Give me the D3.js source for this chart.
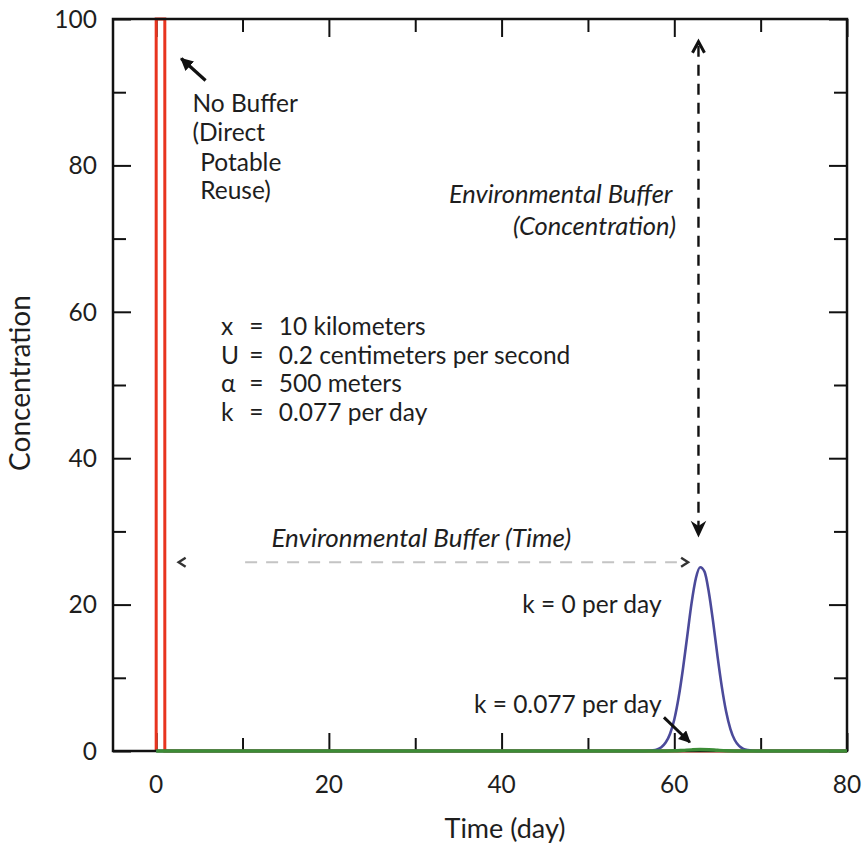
<!DOCTYPE html>
<html><head><meta charset="utf-8">
<script src="https://cdn.jsdelivr.net/npm/d3@7/dist/d3.min.js"></script>
<style>
body{margin:0;background:#fff}
svg{display:block}
text{font-family:Lato,'Open Sans',sans-serif;fill:#1e1e1e}
</style>
</head><body>
<svg id="chart" width="862" height="846"></svg>
<script>
// ---------- data ----------
const noBufferTime = [0, 0, 1, 1, 80];
const noBufferConc = [0, 100, 100, 0, 0];

const k0Time = [0, 56, 57, 57.5, 58, 58.5, 59, 59.5, 60, 60.5, 61, 61.5, 62, 62.5, 63, 63.5, 64, 64.5, 65, 65.5, 66, 66.5, 67, 67.5, 68, 68.5, 69, 70, 80];
const k0Conc = [0, 0, 0.03, 0.08, 0.21, 0.52, 1.15, 2.33, 4.3, 7.3, 11.2, 15.7, 20.2, 23.6, 25.1, 24.5, 21.7, 17.6, 13.0, 8.8, 5.4, 3.0, 1.5, 0.7, 0.3, 0.12, 0.04, 0, 0];

const k077Time = [0, 58, 60, 61, 62, 63, 64, 65, 66, 68, 80];
const k077Conc = [0, 0, 0.03, 0.09, 0.16, 0.2, 0.17, 0.1, 0.04, 0, 0];

const xMajorTicks = [0, 20, 40, 60, 80];
const xMinorTicks = [10, 30, 50, 70];
const xTickLabels = ["0", "20", "40", "60", "80"];
const yMajorTicks = [0, 20, 40, 60, 80, 100];
const yMinorTicks = [10, 30, 50, 70, 90];
const yTickLabels = ["0", "20", "40", "60", "80", "100"];

const paramLines = [
  ["x", "=", "10 kilometers"],
  ["U", "=", "0.2 centimeters per second"],
  ["\u03B1", "=", "500 meters"],
  ["k", "=", "0.077 per day"]
];

// ---------- layout ----------
const W = 862, H = 846;
const m = {left: 113, right: 15, top: 19, bottom: 95};
const svg = d3.select("#chart");
const x = d3.scaleLinear().domain([-5, 80]).range([m.left, W - m.right]);
const y = d3.scaleLinear().domain([0, 100]).range([H - m.bottom, m.top]);
const x0 = m.left, x1 = W - m.right, y0 = H - m.bottom, y1 = m.top;
const FS = 24.5, FSI = 25.5;

// ---------- ticks (inward, all four sides) ----------
function tickAxis(axisFn, scale, ticks, size, transform) {
  const g = svg.append("g").attr("transform", transform)
    .call(axisFn(scale).tickValues(ticks).tickSize(-size).tickFormat(""));
  g.select(".domain").remove();
  g.selectAll("line").attr("stroke", "#111").attr("stroke-width", 2);
}
tickAxis(d3.axisBottom, x, xMajorTicks, 18, `translate(0,${y0})`);
tickAxis(d3.axisBottom, x, xMinorTicks, 13, `translate(0,${y0})`);
tickAxis(d3.axisTop, x, xMajorTicks, 18, `translate(0,${y1})`);
tickAxis(d3.axisTop, x, xMinorTicks, 13, `translate(0,${y1})`);
tickAxis(d3.axisLeft, y, yMajorTicks, 18, `translate(${x0},0)`);
tickAxis(d3.axisLeft, y, yMinorTicks, 13, `translate(${x0},0)`);
tickAxis(d3.axisRight, y, yMajorTicks, 18, `translate(${x1},0)`);
tickAxis(d3.axisRight, y, yMinorTicks, 13, `translate(${x1},0)`);

// tick labels
svg.append("g").selectAll("text").data(xMajorTicks).join("text")
  .attr("x", d => x(d)).attr("y", y0 + 42)
  .attr("text-anchor", "middle").attr("font-size", FS)
  .text((d, i) => xTickLabels[i]);
svg.append("g").selectAll("text").data(yMajorTicks).join("text")
  .attr("x", x0 - 16).attr("y", d => y(d)).attr("dy", "0.36em")
  .attr("text-anchor", "end").attr("font-size", FS)
  .text((d, i) => yTickLabels[i]);

// axis titles
svg.append("text").attr("x", 505).attr("y", H - 8)
  .attr("text-anchor", "middle").attr("font-size", 27).text("Time (day)");
svg.append("text").attr("transform", `translate(30,${383}) rotate(-90)`)
  .attr("text-anchor", "middle").attr("font-size", 28).text("Concentration");

// ---------- series ----------
const line = d3.line().x(d => x(d[0])).y(d => y(d[1]));
const smooth = d3.line().x(d => x(d[0])).y(d => y(d[1])).curve(d3.curveMonotoneX);
const zip = (a, b) => a.map((v, i) => [v, b[i]]);

// no-buffer pulse (drawn under the frame so the top edge stays black)
svg.append("path").datum(zip(noBufferTime, noBufferConc)).attr("d", line)
  .attr("fill", "none").attr("stroke", "#e8341f").attr("stroke-width", 3);

// frame
svg.append("rect").attr("x", x0).attr("y", y1).attr("width", x1 - x0).attr("height", y0 - y1)
  .attr("fill", "none").attr("stroke", "#111").attr("stroke-width", 2.5);

svg.append("path").datum(zip(k0Time, k0Conc)).attr("d", smooth)
  .attr("fill", "none").attr("stroke", "#4b4a9a").attr("stroke-width", 2.6);
svg.append("path").datum(zip(k077Time, k077Conc)).attr("d", smooth)
  .attr("fill", "none").attr("stroke", "#3c8c36").attr("stroke-width", 3.4);

// ---------- annotations ----------
const defs = svg.append("defs");
defs.append("marker").attr("id", "head").attr("viewBox", "0 0 10 10")
  .attr("refX", 9).attr("refY", 5).attr("markerWidth", 4).attr("markerHeight", 4)
  .attr("orient", "auto").append("path").attr("d", "M0,0 L10,5 L0,10 Z").attr("fill", "#111");

// No Buffer arrow + label
svg.append("line")
  .attr("x1", x(5.72)).attr("y1", y(91.6)).attr("x2", x(2.9)).attr("y2", y(94.6))
  .attr("stroke", "#111").attr("stroke-width", 3.2).attr("marker-end", "url(#head)");
const nb = svg.append("text").attr("font-size", FS);
[["No Buffer", 4.2, 87.3], ["(Direct", 4.2, 83.3], ["Potable", 5.1, 79.3], ["Reuse)", 5.1, 75.4]]
  .forEach(([t, tx, ty]) => nb.append("tspan").attr("x", x(tx)).attr("y", y(ty)).text(t));

// parameter block
const pb = svg.append("g");
paramLines.forEach((r, i) => {
  const yy = y(56.8) + i * 28.6;
  pb.append("text").attr("x", x(7.5)).attr("y", yy).attr("font-size", FS).text(r[0]);
  pb.append("text").attr("x", x(11.6)).attr("y", yy).attr("font-size", FS).attr("text-anchor", "middle").text(r[1]);
  pb.append("text").attr("x", x(14.2)).attr("y", yy).attr("font-size", FS).text(r[2]);
});

// Environmental Buffer (Concentration)
svg.append("text").attr("x", x(59.8)).attr("y", y(74.9)).attr("text-anchor", "end")
  .attr("font-size", FSI).attr("font-style", "italic").text("Environmental Buffer");
svg.append("text").attr("x", x(60.2)).attr("y", y(70.5)).attr("text-anchor", "end")
  .attr("font-size", FSI).attr("font-style", "italic").text("(Concentration)");

// vertical dashed double arrow
const vx = x(62.8), vTop = y(96.9), vBot = y(29.4);
svg.append("line").attr("x1", vx).attr("x2", vx).attr("y1", vTop + 4).attr("y2", vBot - 8)
  .attr("stroke", "#111").attr("stroke-width", 2.4).attr("stroke-dasharray", "11,8");
svg.append("path").attr("d", `M${vx - 6},${vTop + 11} L${vx},${vTop} L${vx + 6},${vTop + 11}`)
  .attr("fill", "none").attr("stroke", "#111").attr("stroke-width", 3);
svg.append("path").attr("d", `M${vx - 6},${vBot - 13} L${vx},${vBot - 9} L${vx + 6},${vBot - 13} L${vx},${vBot} Z`)
  .attr("fill", "#111").attr("stroke", "#111").attr("stroke-width", 1.5);

// Environmental Buffer (Time)
svg.append("text").attr("x", x(30.7)).attr("y", y(27.9)).attr("text-anchor", "middle")
  .attr("font-size", FSI + 0.5).attr("font-style", "italic").text("Environmental Buffer (Time)");
const hy = y(25.8);
svg.append("line").attr("x1", x(10.3)).attr("x2", x(60.3)).attr("y1", hy).attr("y2", hy)
  .attr("stroke", "#c4c4c4").attr("stroke-width", 2).attr("stroke-dasharray", "12,9");
const hl = x(2.6), hr = x(61.6);
svg.append("path").attr("d", `M${hl + 7},${hy - 4.5} L${hl},${hy} L${hl + 7},${hy + 4.5}`)
  .attr("fill", "none").attr("stroke", "#333").attr("stroke-width", 2.4);
svg.append("path").attr("d", `M${hr - 7},${hy - 4.5} L${hr},${hy} L${hr - 7},${hy + 4.5}`)
  .attr("fill", "none").attr("stroke", "#333").attr("stroke-width", 2.4);

// k labels
svg.append("text").attr("x", x(42.4)).attr("y", y(18.9)).attr("font-size", FS).text("k = 0 per day");
svg.append("text").attr("x", x(36.8)).attr("y", y(5.2)).attr("font-size", FS).text("k = 0.077 per day");
svg.append("line")
  .attr("x1", x(58.8)).attr("y1", y(4.6)).attr("x2", x(61.8)).attr("y2", y(1.2))
  .attr("stroke", "#111").attr("stroke-width", 3).attr("marker-end", "url(#head)");
</script>
</body></html>
